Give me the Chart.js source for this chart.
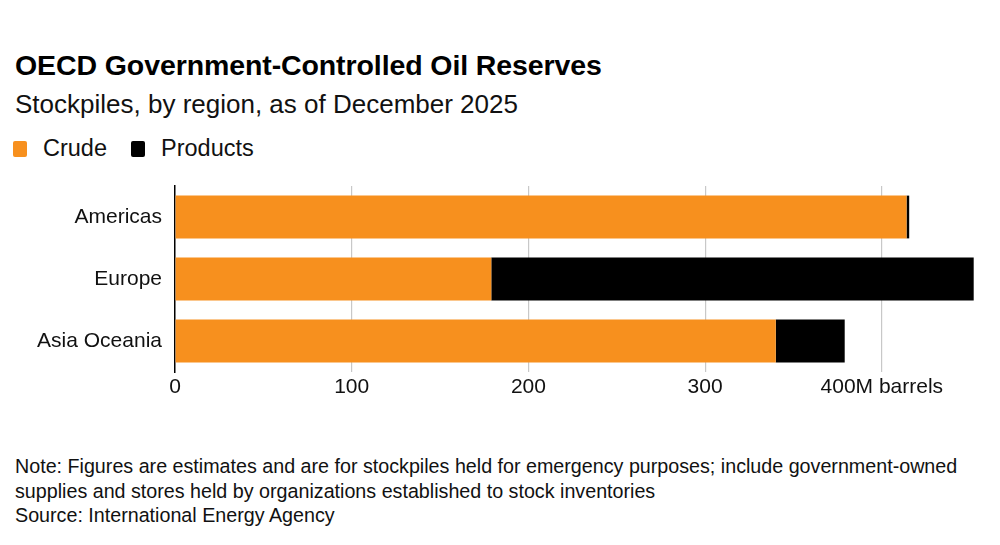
<!DOCTYPE html>
<html>
<head>
<meta charset="utf-8">
<script src="https://cdn.jsdelivr.net/npm/chart.js@4/dist/chart.umd.min.js"></script>
<style>
  html, body { margin: 0; padding: 0; background: #fff; }
  body { width: 1000px; height: 545px; position: relative; overflow: hidden;
         font-family: "Liberation Sans", Arial, sans-serif; color: #000; }
  #title { position: absolute; left: 15px; top: 51px; font-size: 28.5px; line-height: 1; font-weight: bold; letter-spacing: -0.1px; }
  #subtitle { position: absolute; left: 15px; top: 91px; font-size: 26px; line-height: 1; color: #111; }
  #legend { position: absolute; left: 13px; top: 137px; font-size: 23.5px; line-height: 1; display: flex; color: #111; }
  #legend span.item { display: flex; align-items: center; margin-right: 24px; }
  #legend span.sw { width: 14px; height: 16px; border-radius: 2px; margin-right: 16px; display: inline-block; }
  #chartWrap { position: absolute; left: 0; top: 160px; width: 1000px; height: 244px; }
  #notes { position: absolute; left: 15px; top: 454px; font-size: 19.7px; line-height: 24.5px; color: #111; }
</style>
</head>
<body>
<div id="title">OECD Government-Controlled Oil Reserves</div>
<div id="subtitle">Stockpiles, by region, as of December 2025</div>
<div id="legend"></div>
<div id="chartWrap"><canvas id="oilChart"></canvas></div>
<div id="notes">
  Note: Figures are estimates and are for stockpiles held for emergency purposes; include government-owned<br>
  supplies and stores held by organizations established to stock inventories<br>
  Source: International Energy Agency
</div>
<script>
// Data (million barrels)
const regions = ['Americas', 'Europe', 'Asia Oceania'];
const crude = [414, 179, 340];
const products = [1.5, 273, 39];
const tickValues = [0, 100, 200, 300, 400];
const tickLabels = ['0', '100', '200', '300', '400M barrels'];

const seriesNames = ['Crude', 'Products'];
const seriesColors = ['#f7901e', '#000000'];

// HTML legend
const legendEl = document.getElementById('legend');
seriesNames.forEach(function (name, i) {
  const item = document.createElement('span');
  item.className = 'item';
  item.innerHTML = '<span class="sw" style="background:' + seriesColors[i] + '"></span>' + name;
  legendEl.appendChild(item);
});

const ctx = document.getElementById('oilChart').getContext('2d');

new Chart(ctx, {
  type: 'bar',
  data: {
    labels: regions,
    datasets: [
      { label: seriesNames[0], data: crude, backgroundColor: seriesColors[0] },
      { label: seriesNames[1], data: products, backgroundColor: seriesColors[1] },
    ],
  },
  options: {
    indexAxis: 'y',
    responsive: true,
    maintainAspectRatio: false,
    animation: false,
    layout: { padding: { top: 26, right: 21, left: 0, bottom: 0 } },
    datasets: {
      bar: { categoryPercentage: 1, barPercentage: 0.69, borderSkipped: false },
    },
    scales: {
      x: {
        stacked: true,
        min: 0,
        max: 455,
        afterBuildTicks: function (scale) {
          scale.ticks = tickValues.map(function (v) { return { value: v }; });
        },
        afterFit: function (scale) { scale.height = 32; },
        ticks: {
          color: '#111',
          font: { family: 'Liberation Sans', size: 21 },
          padding: 3,
          maxRotation: 0,
          autoSkip: false,
          callback: function (value) {
            const i = tickValues.indexOf(value);
            return i >= 0 ? tickLabels[i] : '';
          },
        },
        grid: {
          color: function (c) { return c.tick && c.tick.value === 0 ? 'rgba(0,0,0,0)' : '#c8c8c8'; },
          lineWidth: 1.2,
          drawTicks: false,
        },
        border: { display: false },
      },
      y: {
        stacked: true,
        afterFit: function (scale) { scale.width = 175; },
        ticks: {
          color: '#111',
          font: { family: 'Liberation Sans', size: 21 },
          padding: 5,
        },
        grid: { display: false },
        border: { display: true, color: '#000', width: 1.5 },
      },
    },
    plugins: {
      legend: { display: false },
      tooltip: { enabled: false },
    },
  },
});
</script>
</body>
</html>
